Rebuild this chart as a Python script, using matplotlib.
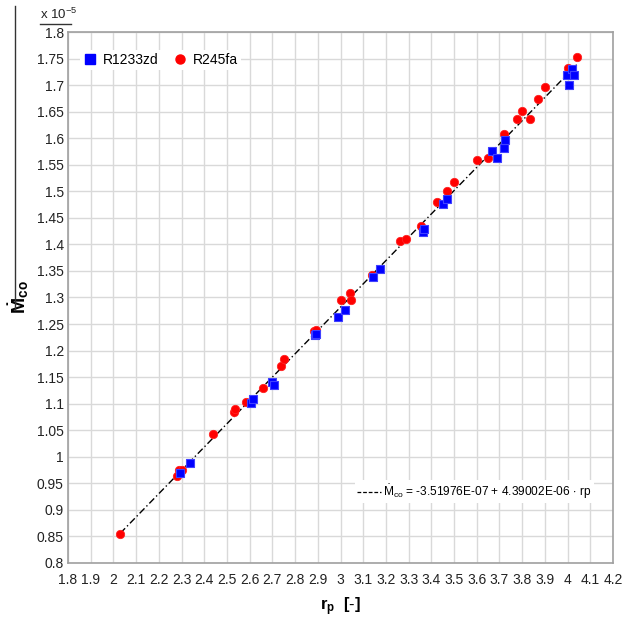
import matplotlib
matplotlib.use("Agg")
import matplotlib.pyplot as plt
import numpy as np
from matplotlib.lines import Line2D

# R245fa (red circles), Mco in units of 1e-5
r245_rp = [2.03, 2.28, 2.29, 2.30, 2.44, 2.53, 2.535, 2.585, 2.66, 2.74, 2.75,
           2.885, 2.89, 3.00, 3.04, 3.045, 3.14, 3.26, 3.29, 3.355, 3.425, 3.47,
           3.50, 3.60, 3.65, 3.72, 3.775, 3.80, 3.835, 3.87, 3.90, 4.00, 4.04]
r245_m = [0.854, 0.963, 0.976, 0.976, 1.042, 1.085, 1.090, 1.104, 1.130, 1.171,
          1.184, 1.237, 1.238, 1.296, 1.309, 1.296, 1.342, 1.406, 1.411, 1.435,
          1.479, 1.501, 1.517, 1.558, 1.563, 1.607, 1.637, 1.651, 1.637, 1.674,
          1.697, 1.732, 1.752]

# R1233zd (blue squares)
r1233_rp = [2.295, 2.335, 2.605, 2.615, 2.70, 2.708, 2.888, 2.893, 2.99, 3.02,
            3.142, 3.174, 3.362, 3.367, 3.453, 3.468, 3.666, 3.691, 3.722, 3.725,
            3.997, 4.004, 4.02, 4.026]
r1233_m = [0.970, 0.988, 1.102, 1.108, 1.140, 1.135, 1.229, 1.232, 1.264, 1.276,
           1.339, 1.354, 1.424, 1.429, 1.476, 1.485, 1.575, 1.563, 1.581, 1.597,
           1.719, 1.700, 1.730, 1.719]

# fit: Mco = a + b * rp
fit_a = -3.51976e-07
fit_b = 4.39002e-06
fit_label = r"$\dot{\mathrm{M}}_{\mathrm{co}}$ = -3.51976E-07 + 4.39002E-06 $\cdot$ rp"

plt.rcParams['font.family'] = ['Liberation Sans', 'DejaVu Sans']
plt.rcParams['mathtext.fontset'] = 'custom'
plt.rcParams['mathtext.rm'] = 'Liberation Sans'
plt.rcParams['mathtext.bf'] = 'Liberation Sans:bold'

fig = plt.figure(figsize=(6.34, 6.19), dpi=100)
ax = fig.add_axes([0.1073, 0.0905, 0.8596, 0.8578])

xfit = np.linspace(min(r245_rp), max(r245_rp), 50)
ax.plot(xfit, (fit_a + fit_b * xfit) / 1e-5, color='black', lw=1.0,
        linestyle=(0, (5, 2, 1, 2)), zorder=2)

ax.scatter(r245_rp, r245_m, marker='o', s=36, color='#ff0000', edgecolors='#ff2020',
           linewidths=0.6, zorder=3, label='R245fa')
ax.scatter(r1233_rp, r1233_m, marker='s', s=36, color='#0000ff', edgecolors='#4040ff',
           linewidths=0.8, zorder=4, label='R1233zd')

ax.set_xlim(1.8, 4.2)
ax.set_ylim(0.8, 1.8)
xt = np.round(np.arange(1.8, 4.201, 0.1), 2)
yt = np.round(np.arange(0.8, 1.801, 0.05), 2)
ax.set_xticks(xt)
ax.set_xticklabels(['%g' % v for v in xt])
ax.set_yticks(yt)
ax.set_yticklabels(['%g' % v for v in yt])
ax.tick_params(length=0, labelsize=10, colors='#222222', pad=7)
ax.tick_params(axis='y', pad=3)
ax.grid(True, color='#d9d9d9', lw=1)
ax.set_axisbelow(True)
for s in ax.spines.values():
    s.set_color('#a0a0a0')
    s.set_linewidth(1.2)

ax.set_xlabel(r"$\mathbf{r_p}$  $\mathbf{[\text{-}]}$", fontsize=12, labelpad=6)
ax.set_ylabel(r"$\mathbf{\dot{M}_{co}}$", fontsize=14, labelpad=4)

h = [Line2D([], [], marker='s', ls='', color='#0000ff', ms=6.5),
     Line2D([], [], marker='o', ls='', color='#ff0000', ms=6.5)]
leg1 = ax.legend(h, ['R1233zd', 'R245fa'], loc='center left', bbox_to_anchor=(0.01, 0.947),
                 ncol=2, fontsize=10, frameon=True, edgecolor='none', fancybox=False,
                 handlelength=1.0, handletextpad=0.4, columnspacing=1.1, borderpad=0.2,
                 framealpha=1)
ax.add_artist(leg1)

fh = [Line2D([], [], color='black', lw=0.9, linestyle=(0, (3, 1.5)))]
ax.legend(fh, [fit_label], loc='center left', bbox_to_anchor=(0.515, 0.134), fontsize=8.6,
          frameon=True, edgecolor='none', fancybox=False, handlelength=2.0,
          handletextpad=0.2, borderpad=0.2, framealpha=1)

fig.text(0.063, 0.977, r"x 10$^{-5}$", fontsize=9.5, ha='left', va='center', color='#222222')
fig.add_artist(Line2D([0.063, 0.112], [0.962, 0.962], color='#333333', lw=1))
fig.add_artist(Line2D([0.024, 0.024], [0.99, 0.50], color='#333333', lw=1))

fig.savefig('out.png', dpi=100)
